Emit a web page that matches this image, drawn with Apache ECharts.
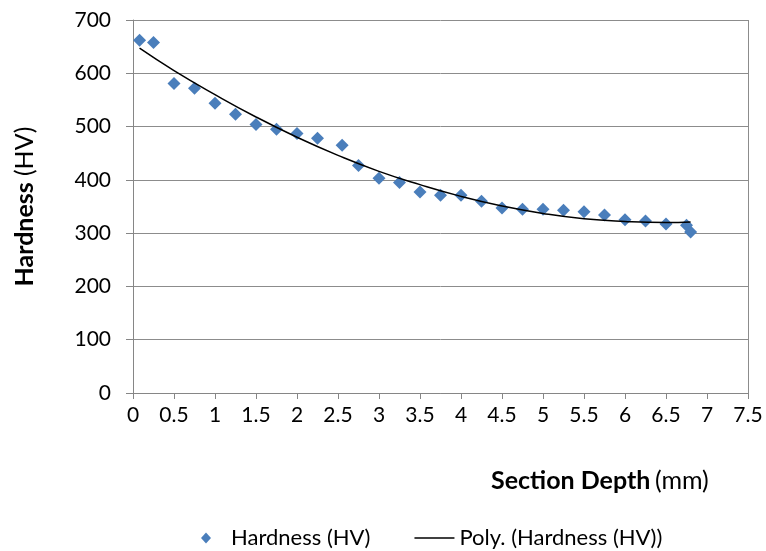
<!DOCTYPE html>
<html>
<head>
<meta charset="utf-8">
<script src="https://cdn.jsdelivr.net/npm/echarts@6/dist/echarts.min.js"></script>
<style>
  html, body { margin: 0; padding: 0; background: #fff; }
  #chart { width: 766px; height: 551px; }
</style>
</head>
<body>
<div id="chart"></div>
<script>
const depth = [0.08, 0.25, 0.5, 0.75, 1.0, 1.25, 1.5, 1.75, 2.0, 2.25, 2.55, 2.75, 3.0, 3.25, 3.5, 3.75,
  4.0, 4.25, 4.5, 4.75, 5.0, 5.25, 5.5, 5.75, 6.0, 6.25, 6.5, 6.75, 6.8];
const hardness = [662, 658, 581, 572, 544, 523, 504, 495, 487, 478, 465, 427, 403, 395, 377, 371,
  371, 360, 347, 345, 345, 343, 340, 334, 325, 323, 317, 315, 302];

// trend line (poly. order 2)
const trendDepth = [0.08, 0.5, 1.0, 1.5, 2.0, 2.5, 3.0, 3.5, 4.0, 4.5, 5.0, 5.5, 6.0, 6.5, 6.8];
const trendHV = [647, 605, 560, 518, 480, 446, 416, 391, 369, 351, 337, 327, 322, 320, 321];

const FONT = "Lato, 'Open Sans', sans-serif";

const chart = echarts.init(document.getElementById('chart'));
chart.setOption({
    animation: false,
    textStyle: { fontFamily: FONT },
    grid: { left: 133, right: 18, top: 20, bottom: 158 },
    title: {
        text: '{b|Section Depth} {n|(mm)}',
        left: 486,
        top: 463,
        textStyle: {
            fontWeight: 'normal',
            rich: {
                b: { fontFamily: FONT, fontWeight: 'bold', fontSize: 25, color: '#000' },
                n: { fontFamily: FONT, fontWeight: 'normal', fontSize: 25, color: '#000' }
            }
        }
    },
    legend: {
        top: 522,
        left: 196,
        itemGap: 44,
        itemWidth: 40,
        itemHeight: 11,
        textStyle: { fontFamily: FONT, fontSize: 22, color: '#000' },
        data: [
            { name: 'Hardness (HV)', icon: 'path://M5,0 L10,5.5 L5,11 L0,5.5 Z', itemStyle: { color: '#4a7ebb' } },
            { name: 'Poly. (Hardness (HV))', icon: 'path://M0,5 L40,5 L40,6.5 L0,6.5 Z', itemStyle: { color: '#000' } }
        ]
    },
    xAxis: {
        type: 'value',
        min: 0,
        max: 7.5,
        interval: 0.5,
        axisLine: { lineStyle: { color: '#868686' } },
        axisTick: { show: true, length: 6, lineStyle: { color: '#868686' } },
        axisLabel: { color: '#000', fontSize: 21, margin: 12, fontFamily: FONT },
        splitLine: { show: false }
    },
    yAxis: {
        type: 'value',
        min: 0,
        max: 700,
        interval: 100,
        name: '{b|Hardness}  {n|(HV)}',
        nameLocation: 'middle',
        nameGap: 96,
        nameTextStyle: {
            rich: {
                b: { fontFamily: FONT, fontWeight: 'bold', fontSize: 25, color: '#000' },
                n: { fontFamily: FONT, fontWeight: 'normal', fontSize: 25, color: '#000' }
            }
        },
        axisLine: { show: true, lineStyle: { color: '#868686' } },
        axisTick: { show: true, length: 7, lineStyle: { color: '#868686' } },
        axisLabel: { color: '#000', fontSize: 21, margin: 22, fontFamily: FONT },
        splitLine: { lineStyle: { color: '#8c8c8c', width: 1 } }
    },
    series: [
        {
            name: 'Hardness (HV)',
            type: 'scatter',
            symbol: 'diamond',
            symbolSize: 13,
            itemStyle: { color: '#4a7ebb', opacity: 1 },
            data: depth.map((d, i) => [d, hardness[i]])
        },
        {
            name: 'Poly. (Hardness (HV))',
            type: 'line',
            smooth: true,
            symbol: 'none',
            lineStyle: { color: '#000', width: 1.5 },
            data: trendDepth.map((d, i) => [d, trendHV[i]]),
            markLine: {
                silent: true,
                symbol: 'none',
                label: { show: false },
                lineStyle: { color: '#8c8c8c', type: 'solid', width: 1 },
                data: [{ xAxis: 7.5 }]
            }
        }
    ]
});
</script>
</body>
</html>
